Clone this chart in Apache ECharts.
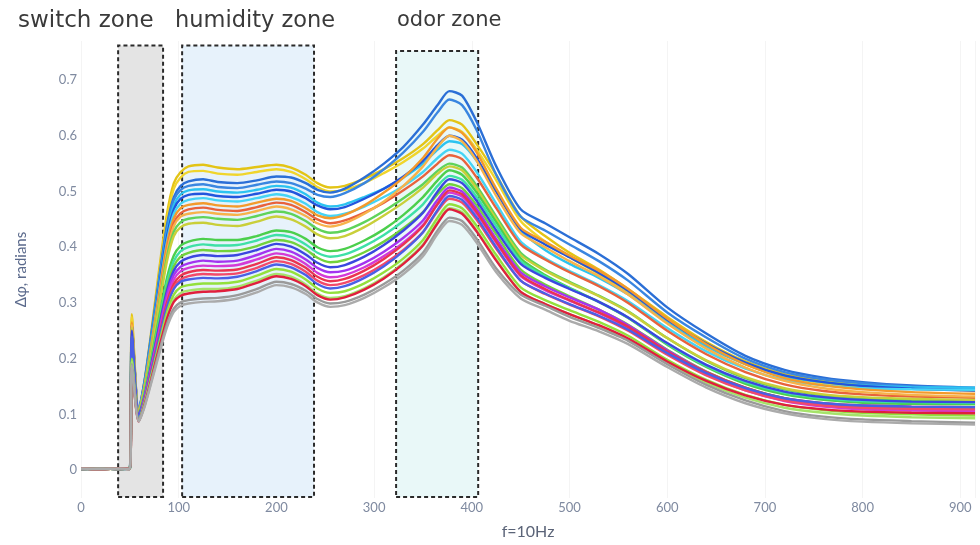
<!DOCTYPE html>
<html>
<head>
<meta charset="utf-8">
<script src="https://cdn.jsdelivr.net/npm/echarts@6/dist/echarts.min.js"></script>
<style>html,body{margin:0;padding:0;background:#fff}#c{width:980px;height:545px}</style>
</head>
<body>
<div id="c"></div>
<script>
// Frequency positions (x axis, f = 10Hz units)
const FREQ = [0,20,40,50,52,59,65,72,80,88,95,102,110,125,140,160,180,200,215,230,242,255,270,290,310,330,350,365,377,390,405,425,450,475,500,530,560,600,640,680,720,760,800,850,915];

// Axis ticks
const Y_TICKS = [0,0.1,0.2,0.3,0.4,0.5,0.6,0.7];
const X_TICKS = [0,100,200,300,400,500,600,700,800,900];

// Zones [label, from, to]
const ZONE_NAMES = ['switch zone','humidity zone','odor zone'];
const ZONE_FROM = [38,103.5,322.5];
const ZONE_TO = [84,238.5,406.5];

// Series (Δφ, radians), top to bottom
const s01 = [0.003,0.002,0.003,0.004,0.28,0.105,0.16,0.25,0.36,0.46,0.515,0.535,0.545,0.548,0.543,0.54,0.544,0.548,0.543,0.53,0.515,0.507,0.51,0.523,0.54,0.56,0.585,0.61,0.628,0.62,0.585,0.53,0.455,0.42,0.39,0.36,0.325,0.275,0.23,0.195,0.172,0.16,0.153,0.148,0.145];
const s02 = [0.002,0.003,0.002,0.003,0.275,0.103,0.155,0.24,0.35,0.45,0.505,0.525,0.535,0.537,0.532,0.53,0.535,0.54,0.535,0.522,0.508,0.5,0.503,0.515,0.533,0.553,0.577,0.6,0.615,0.607,0.575,0.52,0.447,0.41,0.382,0.352,0.318,0.268,0.225,0.19,0.168,0.156,0.15,0.146,0.143];
const s03 = [0.002,0.003,0.002,0.004,0.262,0.108,0.16,0.245,0.345,0.44,0.49,0.51,0.518,0.522,0.517,0.515,0.52,0.527,0.525,0.515,0.503,0.498,0.505,0.525,0.55,0.58,0.62,0.655,0.68,0.672,0.625,0.545,0.468,0.443,0.418,0.388,0.352,0.292,0.245,0.205,0.18,0.166,0.158,0.152,0.148];
const s04 = [0.003,0.002,0.003,0.003,0.258,0.106,0.158,0.24,0.34,0.435,0.485,0.503,0.51,0.513,0.508,0.506,0.512,0.518,0.515,0.505,0.494,0.49,0.497,0.515,0.54,0.57,0.607,0.642,0.665,0.655,0.61,0.53,0.455,0.43,0.405,0.375,0.34,0.283,0.238,0.2,0.176,0.163,0.156,0.15,0.147];
const s05 = [0.002,0.003,0.002,0.003,0.255,0.105,0.155,0.235,0.335,0.425,0.475,0.495,0.502,0.504,0.5,0.498,0.503,0.51,0.507,0.495,0.48,0.473,0.477,0.49,0.505,0.525,0.55,0.575,0.59,0.585,0.555,0.5,0.43,0.395,0.37,0.345,0.315,0.265,0.222,0.19,0.168,0.158,0.152,0.149,0.148];
const s06 = [0.003,0.002,0.003,0.002,0.26,0.104,0.154,0.232,0.33,0.42,0.468,0.487,0.494,0.496,0.492,0.49,0.496,0.503,0.5,0.488,0.475,0.468,0.472,0.487,0.505,0.527,0.555,0.583,0.6,0.593,0.56,0.5,0.432,0.405,0.382,0.354,0.322,0.27,0.227,0.193,0.17,0.158,0.151,0.146,0.143];
const s07 = [0.002,0.003,0.002,0.003,0.25,0.104,0.152,0.228,0.322,0.41,0.46,0.478,0.485,0.488,0.484,0.482,0.488,0.495,0.49,0.478,0.463,0.456,0.46,0.473,0.49,0.51,0.535,0.56,0.575,0.568,0.535,0.478,0.41,0.38,0.357,0.332,0.303,0.255,0.213,0.182,0.162,0.152,0.147,0.145,0.144];
const s08 = [0.003,0.002,0.003,0.003,0.265,0.103,0.15,0.225,0.318,0.405,0.452,0.47,0.476,0.479,0.475,0.473,0.48,0.487,0.483,0.47,0.457,0.452,0.458,0.475,0.498,0.525,0.56,0.595,0.615,0.605,0.57,0.505,0.435,0.41,0.385,0.358,0.325,0.272,0.226,0.19,0.165,0.152,0.145,0.14,0.137];
const s09 = [0.002,0.003,0.002,0.003,0.23,0.1,0.147,0.22,0.31,0.395,0.443,0.461,0.468,0.471,0.467,0.465,0.472,0.48,0.476,0.463,0.45,0.443,0.448,0.462,0.48,0.502,0.527,0.55,0.565,0.558,0.525,0.47,0.405,0.378,0.355,0.33,0.3,0.25,0.208,0.176,0.154,0.142,0.136,0.132,0.13];
const s10 = [0.003,0.002,0.003,0.002,0.26,0.102,0.148,0.22,0.308,0.392,0.438,0.455,0.46,0.463,0.46,0.458,0.465,0.473,0.468,0.456,0.443,0.437,0.443,0.46,0.482,0.51,0.545,0.58,0.6,0.59,0.555,0.492,0.425,0.4,0.375,0.348,0.315,0.263,0.218,0.184,0.16,0.147,0.14,0.135,0.132];
const s11 = [0.002,0.003,0.002,0.003,0.24,0.1,0.145,0.215,0.3,0.383,0.428,0.445,0.451,0.454,0.451,0.449,0.456,0.464,0.46,0.447,0.433,0.426,0.43,0.445,0.465,0.488,0.513,0.537,0.55,0.543,0.51,0.455,0.39,0.36,0.338,0.313,0.285,0.237,0.196,0.165,0.145,0.134,0.128,0.125,0.123];
const s12 = [0.003,0.002,0.003,0.003,0.255,0.101,0.144,0.212,0.295,0.375,0.42,0.436,0.442,0.444,0.44,0.438,0.446,0.455,0.45,0.437,0.423,0.416,0.42,0.436,0.457,0.48,0.507,0.532,0.545,0.538,0.505,0.45,0.386,0.358,0.336,0.312,0.284,0.237,0.197,0.167,0.147,0.136,0.131,0.128,0.126];
const s13 = [0.002,0.003,0.002,0.003,0.22,0.097,0.138,0.2,0.275,0.345,0.385,0.403,0.41,0.415,0.413,0.413,0.42,0.43,0.427,0.415,0.4,0.393,0.397,0.412,0.432,0.458,0.49,0.52,0.538,0.53,0.498,0.445,0.38,0.35,0.327,0.302,0.273,0.225,0.185,0.155,0.136,0.126,0.121,0.119,0.118];
const s14 = [0.003,0.002,0.003,0.002,0.215,0.096,0.136,0.196,0.268,0.336,0.375,0.393,0.4,0.405,0.403,0.404,0.412,0.422,0.418,0.405,0.39,0.383,0.387,0.402,0.422,0.447,0.477,0.51,0.528,0.521,0.49,0.438,0.375,0.348,0.326,0.302,0.274,0.227,0.187,0.158,0.139,0.129,0.124,0.122,0.121];
const s15 = [0.002,0.003,0.002,0.003,0.21,0.095,0.133,0.192,0.262,0.328,0.366,0.383,0.39,0.395,0.393,0.394,0.402,0.413,0.409,0.396,0.381,0.373,0.377,0.391,0.41,0.434,0.463,0.495,0.513,0.506,0.475,0.423,0.36,0.333,0.312,0.288,0.261,0.216,0.177,0.148,0.129,0.119,0.114,0.112,0.11];
const s16 = [0.003,0.002,0.003,0.003,0.25,0.097,0.132,0.19,0.258,0.322,0.358,0.374,0.381,0.386,0.384,0.386,0.395,0.406,0.401,0.387,0.372,0.364,0.368,0.383,0.404,0.43,0.462,0.5,0.522,0.515,0.483,0.43,0.37,0.345,0.325,0.302,0.274,0.228,0.189,0.16,0.141,0.131,0.126,0.123,0.122];
const s17 = [0.002,0.003,0.002,0.002,0.21,0.094,0.13,0.186,0.252,0.315,0.35,0.365,0.371,0.376,0.374,0.376,0.386,0.397,0.392,0.378,0.363,0.355,0.358,0.372,0.392,0.417,0.448,0.485,0.507,0.5,0.468,0.415,0.355,0.33,0.31,0.288,0.26,0.215,0.176,0.147,0.127,0.117,0.112,0.109,0.108];
const s18 = [0.003,0.002,0.003,0.003,0.205,0.093,0.128,0.183,0.247,0.308,0.342,0.357,0.363,0.367,0.366,0.368,0.378,0.389,0.384,0.37,0.354,0.346,0.35,0.364,0.384,0.408,0.44,0.477,0.498,0.491,0.46,0.408,0.348,0.323,0.304,0.282,0.255,0.21,0.172,0.143,0.124,0.114,0.109,0.107,0.106];
const s19 = [0.002,0.003,0.002,0.003,0.19,0.09,0.125,0.178,0.24,0.3,0.334,0.349,0.355,0.359,0.358,0.36,0.37,0.382,0.377,0.363,0.347,0.339,0.343,0.358,0.379,0.405,0.438,0.478,0.502,0.495,0.463,0.41,0.35,0.325,0.305,0.283,0.257,0.213,0.176,0.148,0.129,0.12,0.116,0.114,0.113];
const s20 = [0.003,0.002,0.003,0.002,0.188,0.089,0.123,0.175,0.236,0.295,0.328,0.342,0.348,0.352,0.351,0.353,0.363,0.375,0.37,0.356,0.34,0.332,0.336,0.35,0.37,0.395,0.427,0.465,0.487,0.48,0.449,0.397,0.34,0.316,0.297,0.276,0.25,0.207,0.17,0.143,0.125,0.116,0.112,0.11,0.109];
const s21 = [0.002,0.003,0.002,0.003,0.24,0.095,0.124,0.176,0.236,0.293,0.325,0.338,0.342,0.345,0.344,0.347,0.357,0.369,0.364,0.35,0.334,0.326,0.33,0.345,0.366,0.393,0.427,0.467,0.492,0.485,0.453,0.4,0.34,0.317,0.298,0.277,0.252,0.21,0.174,0.147,0.129,0.12,0.116,0.114,0.113];
const s22 = [0.003,0.002,0.003,0.003,0.2,0.09,0.121,0.17,0.228,0.283,0.315,0.328,0.332,0.335,0.335,0.338,0.349,0.361,0.356,0.342,0.326,0.318,0.321,0.335,0.355,0.38,0.413,0.453,0.477,0.47,0.438,0.386,0.328,0.305,0.287,0.266,0.241,0.198,0.162,0.135,0.117,0.108,0.103,0.1,0.098];
const s23 = [0.002,0.003,0.002,0.002,0.195,0.089,0.119,0.167,0.223,0.276,0.306,0.318,0.322,0.325,0.325,0.329,0.34,0.352,0.347,0.333,0.317,0.309,0.312,0.326,0.346,0.372,0.405,0.445,0.47,0.463,0.43,0.378,0.32,0.298,0.28,0.259,0.235,0.193,0.157,0.13,0.112,0.103,0.098,0.095,0.093];
const s24 = [0.003,0.002,0.003,0.003,0.185,0.087,0.117,0.164,0.22,0.272,0.302,0.313,0.317,0.32,0.321,0.325,0.336,0.348,0.343,0.33,0.314,0.306,0.31,0.324,0.344,0.37,0.403,0.443,0.468,0.46,0.428,0.376,0.32,0.298,0.28,0.26,0.236,0.195,0.16,0.134,0.117,0.109,0.105,0.103,0.102];
const s25 = [0.002,0.003,0.002,0.003,0.19,0.088,0.115,0.16,0.213,0.262,0.29,0.301,0.305,0.308,0.309,0.314,0.325,0.338,0.334,0.322,0.307,0.299,0.302,0.315,0.334,0.358,0.39,0.43,0.453,0.447,0.415,0.362,0.315,0.295,0.275,0.255,0.232,0.19,0.153,0.125,0.106,0.096,0.091,0.088,0.085];
const s26 = [0.003,0.002,0.003,0.002,0.188,0.087,0.113,0.157,0.208,0.256,0.284,0.295,0.299,0.302,0.303,0.308,0.319,0.332,0.328,0.316,0.301,0.293,0.296,0.309,0.328,0.352,0.384,0.424,0.447,0.44,0.408,0.355,0.308,0.288,0.268,0.249,0.226,0.185,0.148,0.12,0.102,0.092,0.087,0.084,0.082];

const SERIES = [s01,s02,s03,s04,s05,s06,s07,s08,s09,s10,s11,s12,s13,s14,s15,s16,s17,s18,s19,s20,s21,s22,s23,s24,s25,s26];
const COLORS = ['#e3c416','#f0d52c','#2b6fd6','#3a86e0','#2cc3f0','#2255dd','#45d4f5','#f39a2c','#e8623c','#f7b24a','#5fd35a','#c9cf3a',
                '#4ccf4c','#3fe0a6','#72d23c','#3b47e0','#a334f0','#d43ad6','#ea3450','#f24a6a','#4a5fe6','#93e03c','#a5e36a','#e01f3d','#9a9a9a','#ababab'];
const ZONE_FILLS = ['#e4e4e4','#e7f2fb','#e9f8f8'];
const ZONE_TOPS = [0.762,0.762,0.752];

const chart = echarts.init(document.getElementById('c'));
const lineSeries = SERIES.map((s, k) => ({
  type: 'line', name: 'S' + (k + 1), z: 3,
  data: FREQ.map((x, i) => [x, s[i]]),
  showSymbol: false, smooth: 0.25,
  lineStyle: { color: COLORS[k], width: 2.4 },
  itemStyle: { color: COLORS[k] },
  emphasis: { disabled: true }
}));

const zoneSeries = {
  type: 'line', data: [], z: 1, silent: true,
  markArea: {
    silent: true,
    data: ZONE_NAMES.map((n, i) => [
      { xAxis: ZONE_FROM[i], yAxis: -0.048, itemStyle: { color: ZONE_FILLS[i], borderColor: '#2a2a2a', borderWidth: 2, borderType: [4, 3] } },
      { xAxis: ZONE_TO[i], yAxis: ZONE_TOPS[i] }
    ]),
    label: { show: false }
  }
};

const option = {
  animation: false,
  backgroundColor: '#ffffff',
  grid: { left: 81, right: 5, top: 41, bottom: 45, containLabel: false },
  xAxis: {
    type: 'value', min: 0, max: 915, interval: 100,
    name: 'f=10Hz', nameLocation: 'middle', nameGap: 26,
    nameTextStyle: { color: '#5b6478', fontSize: 16, fontFamily: 'Lato' },
    axisLine: { show: false }, axisTick: { show: false },
    axisLabel: { color: '#7f8aa0', fontSize: 13, fontFamily: 'Lato', margin: 3,
      formatter: v => X_TICKS.includes(v) ? String(v) : '' },
    splitLine: { show: true, lineStyle: { color: '#f4f4f4', width: 1 } }
  },
  yAxis: {
    type: 'value', min: -0.05, max: 0.77, interval: 0.05,
    name: 'Δφ, radians', nameLocation: 'middle', nameGap: 52, nameRotate: 90,
    nameTextStyle: { color: '#5b6a8c', fontSize: 15, fontFamily: 'Lato' },
    axisLine: { show: false }, axisTick: { show: false },
    axisLabel: { color: '#7f8aa0', fontSize: 13, fontFamily: 'Lato', margin: 4,
      formatter: v => {
        const r = Math.round(v * 100) / 100;
        return Y_TICKS.some(t => Math.abs(t - r) < 1e-6) ? String(r) : '';
      } },
    splitLine: { show: false }
  },
  graphic: [
    { type: 'text', left: 18, top: 10, style: { text: ZONE_NAMES[0], fill: '#3a3a3a', font: '23px "DejaVu Sans"' } },
    { type: 'text', left: 175, top: 10, style: { text: ZONE_NAMES[1], fill: '#3a3a3a', font: '22.5px "DejaVu Sans"' } },
    { type: 'text', left: 397, top: 10, style: { text: ZONE_NAMES[2], fill: '#3a3a3a', font: '21px "DejaVu Sans"' } }
  ],
  series: [zoneSeries].concat(lineSeries)
};
chart.setOption(option);
</script>
</body>
</html>
